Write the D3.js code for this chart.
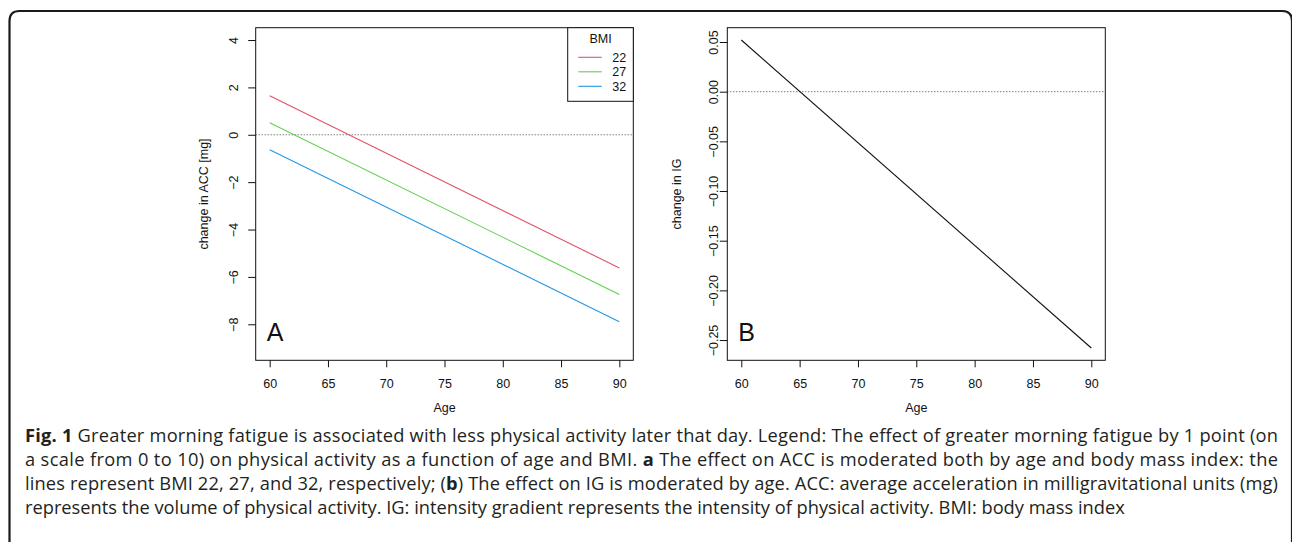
<!DOCTYPE html>
<html>
<head>
<meta charset="utf-8">
<script src="https://cdn.jsdelivr.net/npm/d3@7"></script>
<style>
  html, body { margin: 0; padding: 0; background: #fff; }
  svg { display: block; }
</style>
</head>
<body>
<svg id="fig" width="1292" height="542"></svg>
<script>
// ---------------- data ----------------
const ages = [60, 90];
const bmiLevels = ["22", "27", "32"];
const accBMI22 = [1.65, -5.62];
const accBMI27 = [0.51, -6.74];
const accBMI32 = [-0.63, -7.89];
const igValues = [0.052, -0.258];
const xTicks = [60, 65, 70, 75, 80, 85, 90];
const accTicks = [4, 2, 0, -2, -4, -6, -8];
const igTicks = [0.05, 0, -0.05, -0.10, -0.15, -0.20, -0.25];
const accLimits = [-9, 4];
const igLimits = [-0.258, 0.052];
const seriesColors = ["#DF536B", "#61D04F", "#2297E6"];
const captionLines = [
  [["Fig. 1", true], [" Greater morning fatigue is associated with less physical activity later that day. Legend: The effect of greater morning fatigue by 1 point (on", false]],
  [["a scale from 0 to 10) on physical activity as a function of age and BMI. ", false], ["a", true], [" The effect on ACC is moderated both by age and body mass index: the", false]],
  [["lines represent BMI 22, 27, and 32, respectively; (", false], ["b", true], [") The effect on IG is moderated by age. ACC: average acceleration in milligravitational units (mg)", false]],
  [["represents the volume of physical activity. IG: intensity gradient represents the intensity of physical activity. BMI: body mass index", false]]
];

// ---------------- helpers ----------------
const svg = d3.select("#fig");
const chartFont = "'Liberation Sans', Arial, Helvetica, sans-serif";
const fs = 12.5;
function ext(lim) { const d = (lim[1] - lim[0]) * 0.04; return [lim[0] - d, lim[1] + d]; }

// outer frame
svg.append("path")
  .attr("d", "M9.5,560 L9.5,21 Q9.5,11 19.5,11 L1282,11 Q1292,11 1292,21 L1292,560")
  .attr("fill", "none").attr("stroke", "#1a1a1a").attr("stroke-width", 2.2);

function panel(opts) {
  const { left, right, top, bottom, yLim, yTicks, yFmt, yLabelOff, yTitleOff, yTitle, letter } = opts;
  const x = d3.scaleLinear().domain(ext([ages[0], ages[1]])).range([left, right]);
  const y = d3.scaleLinear().domain(ext(yLim)).range([bottom, top]);
  const g = svg.append("g");

  // x axis
  const xa = g.append("g").attr("transform", `translate(0,${bottom})`)
    .call(d3.axisBottom(x).tickValues(xTicks).tickSize(7).tickSizeOuter(0).tickFormat(d3.format("d")));
  xa.select(".domain").remove();
  xa.selectAll(".tick line").attr("stroke", "#111").attr("stroke-width", 1);
  xa.selectAll(".tick text").attr("y", 27.5).attr("dy", null)
    .attr("font-family", chartFont).attr("font-size", fs).attr("fill", "#111");

  // y axis
  const ya = g.append("g").attr("transform", `translate(${left},0)`)
    .call(d3.axisLeft(y).tickValues(yTicks).tickSize(7.5).tickSizeOuter(0).tickFormat(yFmt));
  ya.select(".domain").remove();
  ya.selectAll(".tick line").attr("stroke", "#111").attr("stroke-width", 1);
  ya.selectAll(".tick text")
    .attr("x", null).attr("dy", null)
    .attr("transform", `translate(${-yLabelOff},0) rotate(-90)`)
    .attr("text-anchor", "middle")
    .attr("font-family", chartFont).attr("font-size", fs).attr("fill", "#111");

  // zero reference line
  g.append("line")
    .attr("x1", left).attr("x2", right).attr("y1", y(0)).attr("y2", y(0))
    .attr("stroke", "#444").attr("stroke-width", 1).attr("stroke-dasharray", "1,2");

  // box
  g.append("rect").attr("x", left).attr("y", top).attr("width", right - left).attr("height", bottom - top)
    .attr("fill", "none").attr("stroke", "#111").attr("stroke-width", 1);

  // titles
  g.append("text").attr("x", (left + right) / 2).attr("y", 411.5).attr("text-anchor", "middle")
    .attr("font-family", chartFont).attr("font-size", fs).attr("fill", "#111").text("Age");
  g.append("text")
    .attr("transform", `translate(${left - yTitleOff},${(top + bottom) / 2}) rotate(-90)`)
    .attr("text-anchor", "middle")
    .attr("font-family", chartFont).attr("font-size", fs).attr("fill", "#111").text(yTitle);
  g.append("text").attr("x", left + 11).attr("y", 340.7)
    .attr("font-family", chartFont).attr("font-size", 25).attr("fill", "#111").text(letter);

  return { g, x, y };
}

// ---------------- panel A ----------------
const A = panel({
  left: 255.7, right: 633.3, top: 27.7, bottom: 360.3,
  yLim: accLimits, yTicks: accTicks, yFmt: d3.format("d"),
  yLabelOff: 17.6, yTitleOff: 47.5, yTitle: "change in ACC [mg]", letter: "A"
});
const accSeries = [accBMI22, accBMI27, accBMI32];
const lineA = d3.line().x((d, i) => A.x(ages[i])).y(d => A.y(d));
A.g.selectAll("path.acc").data(accSeries).enter().append("path")
  .attr("class", "acc").attr("d", d => lineA(d))
  .attr("fill", "none").attr("stroke", (d, i) => seriesColors[i]).attr("stroke-width", 1.1);

// legend
const lg = A.g.append("g");
const lgX0 = 567.7, lgX1 = 633.3, lgY0 = 27.7, lgY1 = 101.3;
lg.append("rect").attr("x", lgX0).attr("y", lgY0).attr("width", lgX1 - lgX0).attr("height", lgY1 - lgY0)
  .attr("fill", "#fff").attr("stroke", "#111").attr("stroke-width", 1);
lg.append("text").attr("x", 600.5).attr("y", 42.5).attr("text-anchor", "middle")
  .attr("font-family", chartFont).attr("font-size", fs).attr("fill", "#111").text("BMI");
const rowY = d3.scalePoint().domain(bmiLevels).range([57.3, 86.3]);
bmiLevels.forEach((b, i) => {
  lg.append("line").attr("x1", 578.3).attr("x2", 601.7).attr("y1", rowY(b)).attr("y2", rowY(b))
    .attr("stroke", seriesColors[i]).attr("stroke-width", 1.1);
  lg.append("text").attr("x", 612.3).attr("y", rowY(b) + 4.4)
    .attr("font-family", chartFont).attr("font-size", fs).attr("fill", "#111").text(b);
});

// ---------------- panel B ----------------
const B = panel({
  left: 727.3, right: 1105.3, top: 27.7, bottom: 360.3,
  yLim: igLimits, yTicks: igTicks, yFmt: d3.format(".2f"),
  yLabelOff: 9.5, yTitleOff: 46.5, yTitle: "change in IG", letter: "B"
});
const lineB = d3.line().x((d, i) => B.x(ages[i])).y(d => B.y(d));
B.g.append("path").attr("d", lineB(igValues))
  .attr("fill", "none").attr("stroke", "#111").attr("stroke-width", 1.1);

// ---------------- caption ----------------
const capFont = "'Open Sans', 'Noto Sans', sans-serif";
const capLeft = 25, capRight = 1278;
const capBase = [441.5, 465.5, 489.5, 513.5];
let capSize = 16;
// calibrate font size so the last (unjustified) line spans about 1100px
const probe = svg.append("text").attr("font-family", capFont).attr("font-size", capSize)
  .text(captionLines[3][0][0]);
const natural = probe.node().getComputedTextLength();
probe.remove();
capSize = capSize * 1100 / natural;

captionLines.forEach((parts, li) => {
  const t = svg.append("text").attr("x", capLeft).attr("y", capBase[li])
    .attr("font-family", capFont).attr("font-size", capSize).attr("fill", "#231f20")
    .attr("xml:space", "preserve").style("white-space", "pre");
  parts.forEach(([s, bold]) => {
    t.append("tspan").attr("font-weight", bold ? 700 : 400).text(s);
  });
  if (li < 3) {
    t.attr("textLength", capRight - capLeft).attr("lengthAdjust", "spacing");
  }
});
</script>
</body>
</html>
